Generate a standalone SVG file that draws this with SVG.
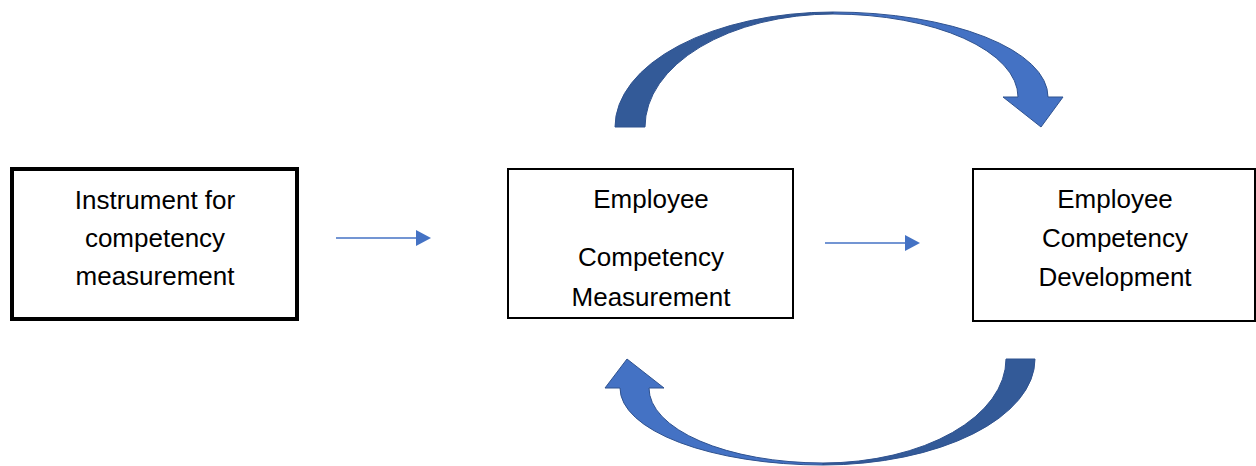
<svg xmlns="http://www.w3.org/2000/svg" width="1256" height="466" viewBox="0 0 1256 466">
<style>
.box{fill:#fff;stroke:#000}
.t{font-family:"Liberation Sans",Arial,sans-serif;font-size:26px;fill:#000;text-anchor:middle}
.dark{fill:#335A98;stroke:#2F528F;stroke-width:1}
.light{fill:#4472C4;stroke:#2F528F;stroke-width:1}
.conn{stroke:#4472C4;stroke-width:1.6;fill:none}
</style>
<defs>
<marker id="ah" markerUnits="userSpaceOnUse" markerWidth="16" markerHeight="18" refX="0" refY="8" orient="auto">
<path d="M0,0 L15,8 L0,16 Z" fill="#4472C4"/>
</marker>
</defs>
<g id="node-instrument">
<rect class="box" x="12" y="169" width="285" height="150" stroke-width="4"/>
<text class="t" x="155" y="209">Instrument for</text>
<text class="t" x="155" y="247">competency</text>
<text class="t" x="155" y="285">measurement</text>
</g>
<g id="node-measurement">
<rect class="box" x="508" y="169" width="285" height="149" stroke-width="2"/>
<text class="t" x="651" y="208">Employee</text>
<text class="t" x="651" y="266">Competency</text>
<text class="t" x="651" y="306">Measurement</text>
</g>
<g id="node-development">
<rect class="box" x="973" y="169" width="282" height="152" stroke-width="2"/>
<text class="t" x="1115" y="208">Employee</text>
<text class="t" x="1115" y="247">Competency</text>
<text class="t" x="1115" y="286">Development</text>
</g>
<g id="connectors">
<line class="conn" x1="336" y1="238" x2="416" y2="238" marker-end="url(#ah)"/>
<line class="conn" x1="825" y1="243" x2="905" y2="243" marker-end="url(#ah)"/>
<path class="dark" d="M615,127 A218,115 0 0 1 833,12 L833,14 A188,113 0 0 0 645,127 Z"/>
<path class="light" d="M833,12 A215,85 0 0 1 1048,97 L1063,97 L1041,127 L1003,97 L1018,97 A185,83 0 0 0 833,14 Z"/>
<path class="dark" d="M1035,359 A212,106 0 0 1 823,465 L823,463 A183,104 0 0 0 1006,359 Z"/>
<path class="light" d="M823,465 A203,77 0 0 1 620,388 L605,388 L627,359 L664,388 L649,388 A174,75 0 0 0 823,463 Z"/>
</g>
</svg>
